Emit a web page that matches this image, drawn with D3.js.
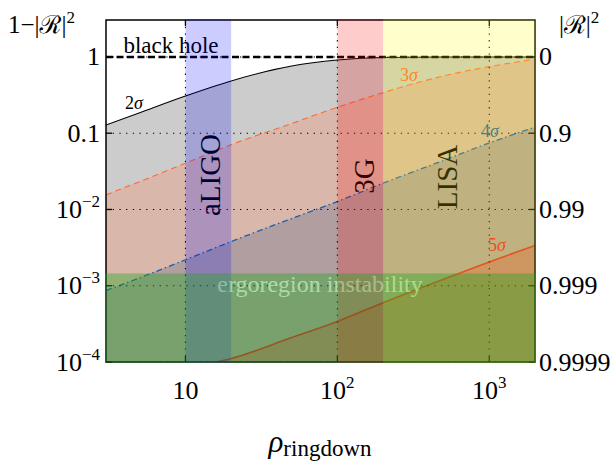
<html>
<head>
<script src="https://d3js.org/d3.v7.min.js"></script>
<style>
  body { margin: 0; background: #fff; }
  svg, svg text { font-family: "Liberation Serif", "Times New Roman", "DejaVu Serif", "Noto Serif", serif; }
</style>
</head>
<body>
<div id="chart"></div>
<script>
// values: 1-|R|^2 against rho_ringdown
var rho = [3, 5, 10, 20, 50, 100, 200, 500, 1000, 2000];
var sigma2 = [0.128, 0.186, 0.308, 0.485, 0.76, 0.91, 0.985, 1.0, 1.0, 1.0];
var sigma3 = [0.0155, 0.0232, 0.0404, 0.0707, 0.134, 0.219, 0.34, 0.563, 0.746, 0.933];
var sigma4 = [8.65e-4, 1.27e-3, 2.19e-3, 3.8e-3, 7.6e-3, 0.0127, 0.0221, 0.044, 0.0746, 0.12];
var rho5 = [16, 20, 50, 100, 200, 500, 1000, 2000];
var sigma5 = [1.0e-4, 1.11e-4, 2.09e-4, 3.4e-4, 6.0e-4, 1.22e-3, 2.05e-3, 3.37e-3];

var detectors = ["aLIGO", "3G", "LISA"];
var detLo = [10, 100, 200];
var detHi = [20, 200, 2000];
var ergoTop = 1.45e-3;

var yTicks = [1, 0.1, 0.01, 0.001, 0.0001];
var yLeftLabels = [["1"], ["0.1"], ["10", "−2"], ["10", "−3"], ["10", "−4"]];
var yRightLabels = ["0", "0.9", "0.99", "0.999", "0.9999"];
var xTicks = [10, 100, 1000];
var xLabels = [["10"], ["10", "2"], ["10", "3"]];

var W = 611, H = 461;
var L = 106, R = 535, T = 20, B = 362;
var FONT = '"Liberation Serif", "Times New Roman", "DejaVu Serif", serif';

var svg = d3.select("#chart").append("svg").attr("width", W).attr("height", H)
    .attr("font-family", FONT);

var x = d3.scaleLog().domain([3, 2000]).range([L, R]);
var y = d3.scaleLog().domain([1e-4, 3.05]).range([B, T]);

svg.append("clipPath").attr("id", "clip")
    .append("rect").attr("x", L).attr("y", T).attr("width", R - L).attr("height", B - T);
var plot = svg.append("g").attr("clip-path", "url(#clip)");

function pts(xs, ys) { return xs.map(function(d, i) { return [d, ys[i]]; }); }
var line = d3.line().x(function(d) { return x(d[0]); }).y(function(d) { return y(d[1]); }).curve(d3.curveMonotoneX);
var area = d3.area().x(function(d) { return x(d[0]); }).y0(B + 5).y1(function(d) { return y(d[1]); }).curve(d3.curveMonotoneX);

var curves = [
    {p: pts(rho, sigma2), fill: "rgba(128,128,128,0.4)", stroke: "#000", dash: null, w: 1.1},
    {p: pts(rho, sigma3), fill: "rgba(255,120,70,0.25)", stroke: "#ff6a33", dash: "6,4", w: 1.1},
    {p: pts(rho, sigma4), fill: "rgba(56,85,130,0.25)", stroke: "#1f5fa8", dash: "6,3,1.5,3", w: 1.3},
    {p: pts(rho5, sigma5), fill: "rgba(230,50,30,0.3)", stroke: "#e02828", dash: null, w: 1.6}
];

curves.forEach(function(c) {
    plot.append("path").attr("d", area(c.p)).attr("fill", c.fill);
});
curves.forEach(function(c) {
    plot.append("path").attr("d", line(c.p)).attr("fill", "none")
        .attr("stroke", c.stroke).attr("stroke-width", c.w)
        .attr("stroke-dasharray", c.dash);
});

// grid
xTicks.forEach(function(t) {
    plot.append("line").attr("x1", x(t)).attr("x2", x(t)).attr("y1", T).attr("y2", B)
        .attr("stroke", "#000").attr("stroke-width", 1.1).attr("stroke-dasharray", "1.3,5.4");
});
yTicks.forEach(function(t) {
    plot.append("line").attr("x1", L).attr("x2", R).attr("y1", y(t)).attr("y2", y(t))
        .attr("stroke", "#000").attr("stroke-width", 1.1).attr("stroke-dasharray", "1.3,5.4");
});

// black hole line
plot.append("line").attr("x1", L).attr("x2", R).attr("y1", y(1)).attr("y2", y(1))
    .attr("stroke", "#000").attr("stroke-width", 2.6).attr("stroke-dasharray", "7,3.5");

// labels under the bands
svg.append("text").attr("x", 171).attr("y", 53).attr("text-anchor", "middle")
    .style("font-size", "23px").text("black hole");

var sig = [
    {t: "2", x: 125, y: 109, c: "#000"},
    {t: "3", x: 400, y: 81, c: "#ff6a33"},
    {t: "4", x: 481, y: 137, c: "#1f5fa8"},
    {t: "5", x: 488, y: 251, c: "#e02828"}
];
sig.forEach(function(s) {
    var tx = svg.append("text").attr("x", s.x).attr("y", s.y).attr("fill", s.c).style("font-size", "18px");
    tx.append("tspan").text(s.t);
    tx.append("tspan").style("font-style", "italic").text("σ");
});

var detPos = [[220, 175], [374, 176], [457, 177]];
detectors.forEach(function(d, i) {
    svg.append("text").attr("transform", "translate(" + detPos[i][0] + "," + detPos[i][1] + ") rotate(-90)")
        .attr("text-anchor", "middle").style("font-size", "29px").attr("fill", "#000").text(d);
});

svg.append("text").attr("x", 320).attr("y", 292).attr("text-anchor", "middle")
    .attr("fill", "#fff").style("font-size", "24px").text("ergoregion instability");

// frame
svg.append("rect").attr("x", L).attr("y", T).attr("width", R - L).attr("height", B - T)
    .attr("fill", "none").attr("stroke", "#000").attr("stroke-width", 1.5);
xTicks.forEach(function(t) {
    svg.append("line").attr("x1", x(t)).attr("x2", x(t)).attr("y1", B).attr("y2", B - 6)
        .attr("stroke", "#000").attr("stroke-width", 1.3);
    svg.append("line").attr("x1", x(t)).attr("x2", x(t)).attr("y1", T).attr("y2", T + 6)
        .attr("stroke", "#000").attr("stroke-width", 1.3);
});
yTicks.forEach(function(t) {
    svg.append("line").attr("x1", L).attr("x2", L + 6).attr("y1", y(t)).attr("y2", y(t))
        .attr("stroke", "#000").attr("stroke-width", 1.3);
    svg.append("line").attr("x1", R).attr("x2", R - 6).attr("y1", y(t)).attr("y2", y(t))
        .attr("stroke", "#000").attr("stroke-width", 1.3);
});

// detector bands and ergoregion band on top
var bandCols = ["rgba(0,0,255,0.2)", "rgba(255,0,0,0.2)", "rgba(255,255,0,0.2)"];
detectors.forEach(function(d, i) {
    svg.append("rect").attr("x", x(detLo[i])).attr("y", T - 0.8)
        .attr("width", x(detHi[i]) - x(detLo[i]) + (i == 2 ? 0.8 : 0)).attr("height", B - T + 1.6)
        .attr("fill", bandCols[i]);
});
svg.append("rect").attr("x", L - 0.8).attr("y", y(ergoTop)).attr("width", R - L + 1.6)
    .attr("height", B - y(ergoTop) + 0.8).attr("fill", "rgba(30,165,25,0.38)");

// tick labels
yTicks.forEach(function(t, i) {
    var tx = svg.append("text").attr("x", 100).attr("y", y(t) + 8.5).attr("text-anchor", "end")
        .style("font-size", "26px");
    tx.append("tspan").text(yLeftLabels[i][0]);
    if (yLeftLabels[i][1]) tx.append("tspan").attr("dy", -11).style("font-size", "17px").text(yLeftLabels[i][1]);
    svg.append("text").attr("x", 539).attr("y", y(t) + 8.5).style("font-size", "26px").text(yRightLabels[i]);
});
xTicks.forEach(function(t, i) {
    var tx = svg.append("text").attr("x", x(t)).attr("y", 399).attr("text-anchor", "middle")
        .style("font-size", "26px");
    tx.append("tspan").text(xLabels[i][0]);
    if (xLabels[i][1]) tx.append("tspan").attr("dy", -11).style("font-size", "17px").text(xLabels[i][1]);
});

// axis titles
var lt = svg.append("text").attr("x", 8).attr("y", 33).style("font-size", "25px");
lt.append("tspan").text("1−|ℛ|");
lt.append("tspan").attr("dy", -10).style("font-size", "17px").text("2");
var rt = svg.append("text").attr("x", 559).attr("y", 33).style("font-size", "25px");
rt.append("tspan").text("|ℛ|");
rt.append("tspan").attr("dy", -10).style("font-size", "17px").text("2");

var xt = svg.append("text").attr("x", 320).attr("y", 452).attr("text-anchor", "middle");
xt.append("tspan").style("font-size", "31px").style("font-style", "italic").text("ρ");
xt.append("tspan").attr("dy", 4).style("font-size", "23px").text("ringdown");
</script>
</body>
</html>
